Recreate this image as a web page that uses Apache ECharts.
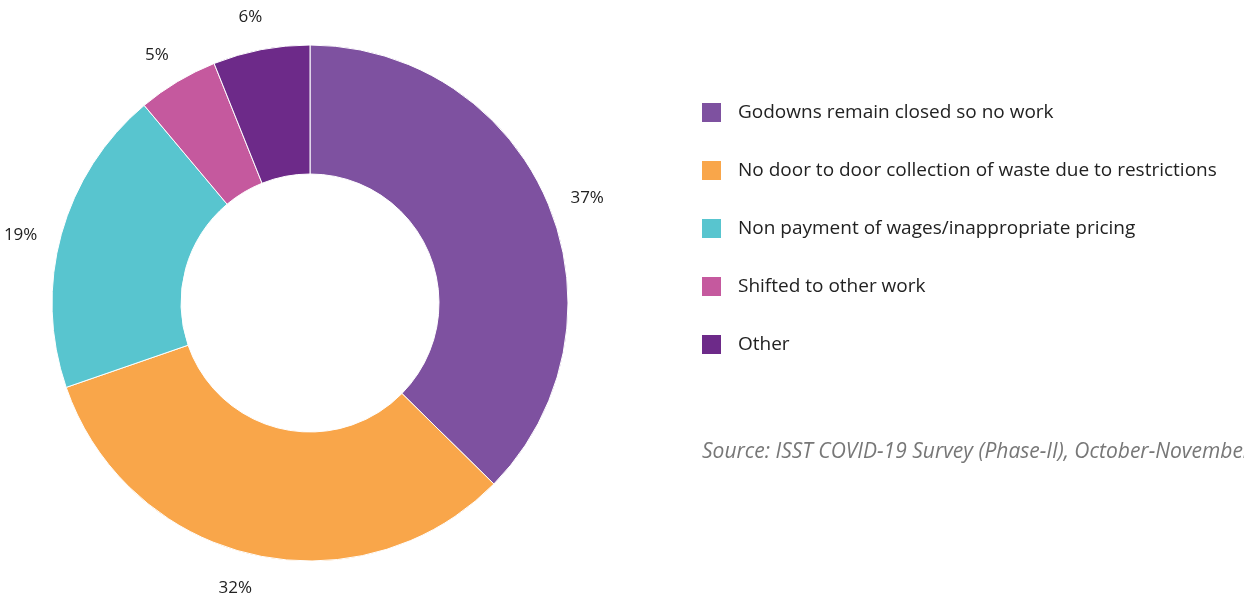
<!DOCTYPE html>
<html>
<head>
<meta charset="utf-8">
<script src="https://cdn.jsdelivr.net/npm/echarts@6/dist/echarts.min.js"></script>
<style>
  html, body { margin: 0; padding: 0; background: #ffffff; }
  #chart { width: 1244px; height: 596px; }
</style>
</head>
<body>
<div id="chart"></div>
<script>
// Reasons for loss of work among waste pickers (percent of respondents)
const categories = [
  'Godowns remain closed so no work',
  'No door to door collection of waste due to restrictions',
  'Non payment of wages/inappropriate pricing',
  'Shifted to other work',
  'Other'
];
const shares = [37, 32, 19, 5, 6];
const colors = ['#7E51A0', '#F9A64A', '#58C5CF', '#C5599E', '#6D2A89'];
const sourceNote = 'Source: ISST COVID-19 Survey (Phase-II), October-November 2020';

// small per-label nudges (px) for the percentage labels around the ring
const labelNudge = [[6, 9], [-10, -2], [-6, 10], [-2, 4], [-4, 3]];

const FONT = 'Open Sans';
const center = [310, 303];

const pieData = categories.map((name, i) => ({
  name,
  value: shares[i],
  itemStyle: { color: colors[i] }
}));

const chart = echarts.init(document.getElementById('chart'), null, { renderer: 'canvas' });
chart.setOption({
  animation: false,
  backgroundColor: '#ffffff',
  legend: {
    orient: 'vertical',
    left: 700,
    top: 101,
    padding: 0,
    itemWidth: 21,
    itemHeight: 21,
    itemGap: 35,
    icon: 'rect',
    data: categories,
    textStyle: { fontFamily: FONT, fontSize: 19, lineHeight: 21, color: '#222222', padding: [0, 0, 0, 11] }
  },
  graphic: [{
    type: 'text',
    left: 702,
    top: 442,
    style: {
      text: sourceNote,
      font: 'italic 21px "' + FONT + '"',
      fill: '#777777'
    }
  }],
  series: [
    {
      type: 'pie',
      center,
      radius: [129, 258],
      startAngle: 90,
      clockwise: true,
      data: pieData,
      itemStyle: { borderColor: '#ffffff', borderWidth: 1 },
      label: { show: false },
      labelLine: { show: false },
      emphasis: { disabled: true }
    },
    {
      // transparent ring that carries the percentage labels just outside the donut
      type: 'pie',
      center,
      radius: [280, 302],
      startAngle: 90,
      clockwise: true,
      silent: true,
      data: pieData.map((d, i) => ({
        name: d.name,
        value: d.value,
        itemStyle: { color: 'transparent' },
        label: { offset: labelNudge[i] }
      })),
      label: {
        show: true,
        position: 'inside',
        formatter: p => p.value + '%',
        fontFamily: FONT,
        fontSize: 17,
        color: '#222222'
      },
      labelLine: { show: false },
      emphasis: { disabled: true }
    }
  ]
});
</script>
</body>
</html>
